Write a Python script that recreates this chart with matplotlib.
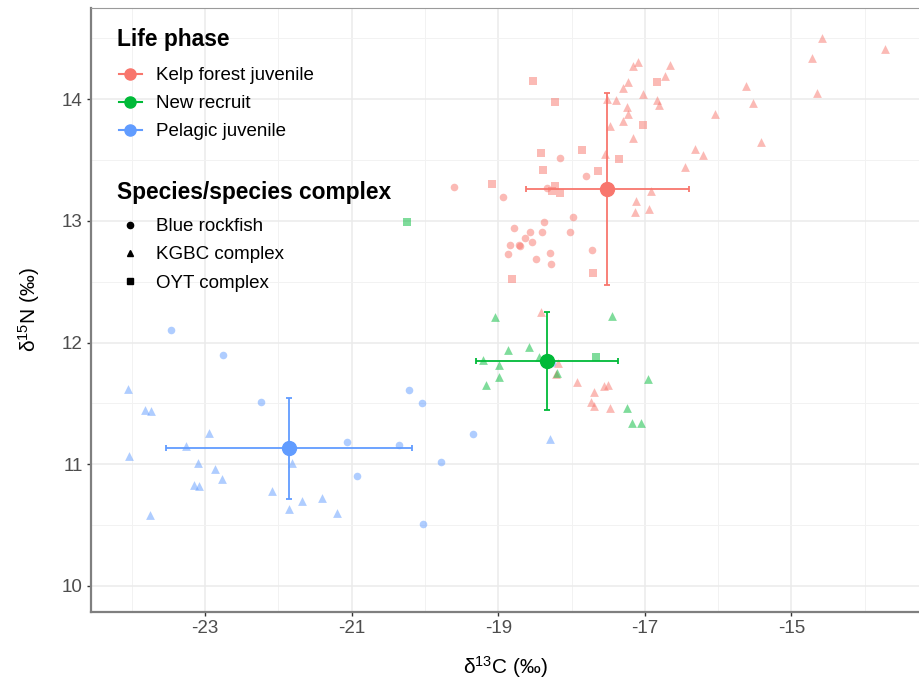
import matplotlib
matplotlib.use("Agg")
import matplotlib.pyplot as plt
from matplotlib.lines import Line2D
from matplotlib.ticker import MultipleLocator, FixedLocator

plt.rcParams['font.family'] = ['Liberation Sans', 'DejaVu Sans']
plt.rcParams['mathtext.fontset'] = 'custom'
plt.rcParams['mathtext.rm'] = 'Liberation Sans'
plt.rcParams['axes.unicode_minus'] = False

phases = ["Kelp forest juvenile", "New recruit", "Pelagic juvenile"]
colors = ['#F8766D', '#00BA38', '#619CFF']
species = ["Blue rockfish", "KGBC complex", "OYT complex"]
markers = ['o', '^', 's']
sizes = [30, 40, 28]

# Kelp forest juvenile
kelp_blue_x = [-19.61, -18.16, -17.80, -18.93, -18.34, -18.37, -17.98, -18.78, -18.56, -18.40,
               -18.63, -18.54, -18.02, -18.84, -18.71, -18.70, -18.86, -18.29, -18.48, -18.28, -17.72]
kelp_blue_y = [13.28, 13.52, 13.37, 13.20, 13.27, 12.99, 13.03, 12.94, 12.91, 12.91,
               12.86, 12.83, 12.91, 12.80, 12.80, 12.79, 12.73, 12.74, 12.69, 12.65, 12.76]
kelp_kgbc_x = [-17.10, -17.16, -16.66, -16.73, -17.23, -17.30, -17.03, -17.52, -17.40, -16.83,
               -16.80, -17.24, -17.23, -17.30, -17.48, -16.04, -17.16, -16.31, -16.20, -17.54,
               -16.45, -16.92, -17.12, -16.94, -17.14, -14.59, -14.72, -13.73, -14.65, -15.62,
               -15.52, -15.42, -18.41, -18.19, -18.21, -17.92, -17.69, -17.56, -17.50, -17.74,
               -17.70, -17.48]
kelp_kgbc_y = [14.31, 14.27, 14.28, 14.19, 14.14, 14.09, 14.04, 14.00, 13.99, 13.99,
               13.95, 13.94, 13.88, 13.82, 13.78, 13.88, 13.68, 13.59, 13.54, 13.55,
               13.44, 13.25, 13.16, 13.10, 13.07, 14.50, 14.34, 14.41, 14.05, 14.11,
               13.97, 13.65, 12.25, 11.83, 11.74, 11.68, 11.59, 11.64, 11.65, 11.51,
               11.48, 11.46]
kelp_oyt_x = [-18.53, -18.22, -16.83, -17.02, -18.42, -17.86, -17.35, -18.39, -17.64, -19.08,
              -18.23, -18.27, -18.16, -18.81, -17.71]
kelp_oyt_y = [14.15, 13.98, 14.14, 13.79, 13.56, 13.58, 13.51, 13.42, 13.41, 13.30,
              13.29, 13.25, 13.23, 12.52, 12.57]

# New recruit
recruit_blue_x = []
recruit_blue_y = []
recruit_kgbc_x = [-19.04, -17.45, -18.86, -18.58, -18.45, -19.21, -18.99, -18.99, -19.17, -18.20,
                  -16.95, -17.24, -17.17, -17.05]
recruit_kgbc_y = [12.21, 12.22, 11.94, 11.96, 11.88, 11.86, 11.82, 11.72, 11.65, 11.75,
                  11.70, 11.46, 11.34, 11.34]
recruit_oyt_x = [-17.66, -20.24]
recruit_oyt_y = [11.88, 12.99]

# Pelagic juvenile
pelagic_blue_x = [-23.47, -22.76, -22.23, -20.22, -20.04, -19.35, -21.06, -20.35, -19.78, -20.93,
                  -20.02, -18.27]
pelagic_blue_y = [12.10, 11.90, 11.51, 11.61, 11.50, 11.25, 11.18, 11.16, 11.02, 10.90,
                  10.51, 11.83]
pelagic_kgbc_x = [-24.05, -23.82, -23.74, -22.95, -23.26, -24.04, -23.10, -22.86, -22.77, -23.15,
                  -23.08, -22.09, -21.81, -21.68, -21.40, -21.85, -21.20, -23.75, -18.29]
pelagic_kgbc_y = [11.62, 11.45, 11.44, 11.26, 11.15, 11.07, 11.01, 10.96, 10.88, 10.83,
                  10.82, 10.78, 11.01, 10.70, 10.72, 10.63, 10.60, 10.58, 11.21]
pelagic_oyt_x = []
pelagic_oyt_y = []

# group means and standard deviations
mean_x = [-17.51, -18.33, -21.85]
mean_y = [13.26, 11.85, 11.13]
sd_x = [1.11, 0.97, 1.68]
sd_y = [0.79, 0.40, 0.415]

points = [
    [(kelp_blue_x, kelp_blue_y), (kelp_kgbc_x, kelp_kgbc_y), (kelp_oyt_x, kelp_oyt_y)],
    [(recruit_blue_x, recruit_blue_y), (recruit_kgbc_x, recruit_kgbc_y), (recruit_oyt_x, recruit_oyt_y)],
    [(pelagic_blue_x, pelagic_blue_y), (pelagic_kgbc_x, pelagic_kgbc_y), (pelagic_oyt_x, pelagic_oyt_y)],
]

fig = plt.figure(figsize=(9.19, 6.79), dpi=100)
ax = fig.add_axes([91 / 919, 67 / 679, 828 / 919, 604 / 679])

for i, groups in enumerate(points):
    for j, (xs, ys) in enumerate(groups):
        if xs:
            ax.scatter(xs, ys, marker=markers[j], s=sizes[j], color=colors[i],
                       alpha=0.5, linewidths=0, zorder=3)

for i in range(3):
    ax.errorbar(mean_x[i], mean_y[i], xerr=sd_x[i], yerr=sd_y[i], fmt='o', ms=10,
                color=colors[i], elinewidth=1.3, capsize=2.5, capthick=1.3, zorder=5)

ax.set_xlim(-24.555, -13.26)
ax.set_ylim(9.786, 14.75)
ax.xaxis.set_major_locator(FixedLocator([-23, -21, -19, -17, -15]))
ax.xaxis.set_minor_locator(FixedLocator([-24, -22, -20, -18, -16, -14]))
ax.yaxis.set_major_locator(MultipleLocator(1))
ax.yaxis.set_minor_locator(MultipleLocator(0.5))
ax.grid(which='major', color='#EBEBEB', linewidth=1.1, zorder=0)
ax.grid(which='minor', color='#F2F2F2', linewidth=0.7, zorder=0)
ax.set_axisbelow(True)

ax.tick_params(which='major', length=3, width=1, color='#333333',
               labelsize=13.5, labelcolor='#4D4D4D', pad=3)
ax.tick_params(which='minor', length=0)

for side in ['left', 'bottom']:
    ax.spines[side].set_color('#7F7F7F')
    ax.spines[side].set_linewidth(1.6)
ax.spines['top'].set_color('#9A9A9A')
ax.spines['top'].set_linewidth(0.8)
ax.spines['right'].set_visible(False)

ax.set_xlabel(r'$\mathrm{δ^{13}}$C (‰)', fontsize=15, labelpad=12)
ax.set_ylabel(r'$\mathrm{δ^{15}}$N (‰)', fontsize=15, labelpad=14)

# legend titles
fig.text(117 / 919, 1 - 46 / 679, 'Life phase', fontsize=16.4, fontweight='bold', va='baseline')
fig.text(117 / 919, 1 - 199 / 679, 'Species/species complex', fontsize=16.4,
         fontweight='bold', va='baseline')

phase_handles = [Line2D([0], [0], color=colors[i], marker='o', ms=8, lw=1.5, label=phases[i])
                 for i in range(3)]
leg1 = ax.legend(handles=phase_handles, loc='upper left',
                 bbox_to_anchor=(119 / 919, 1 - 67 / 679), bbox_transform=fig.transFigure,
                 frameon=False, borderpad=0, borderaxespad=0, fontsize=13.5,
                 handlelength=1.21, handletextpad=0.75, labelspacing=0.59)
ax.add_artist(leg1)

species_handles = [Line2D([0], [0], color='black', marker=markers[j], ms=4.5, lw=0, label=species[j])
                   for j in range(3)]
ax.legend(handles=species_handles, loc='upper left',
          bbox_to_anchor=(119 / 919, 1 - 218 / 679), bbox_transform=fig.transFigure,
          frameon=False, borderpad=0, borderaxespad=0, fontsize=13.5,
          handlelength=1.21, handletextpad=0.75, labelspacing=0.59)

fig.savefig('out.png', dpi=100)
